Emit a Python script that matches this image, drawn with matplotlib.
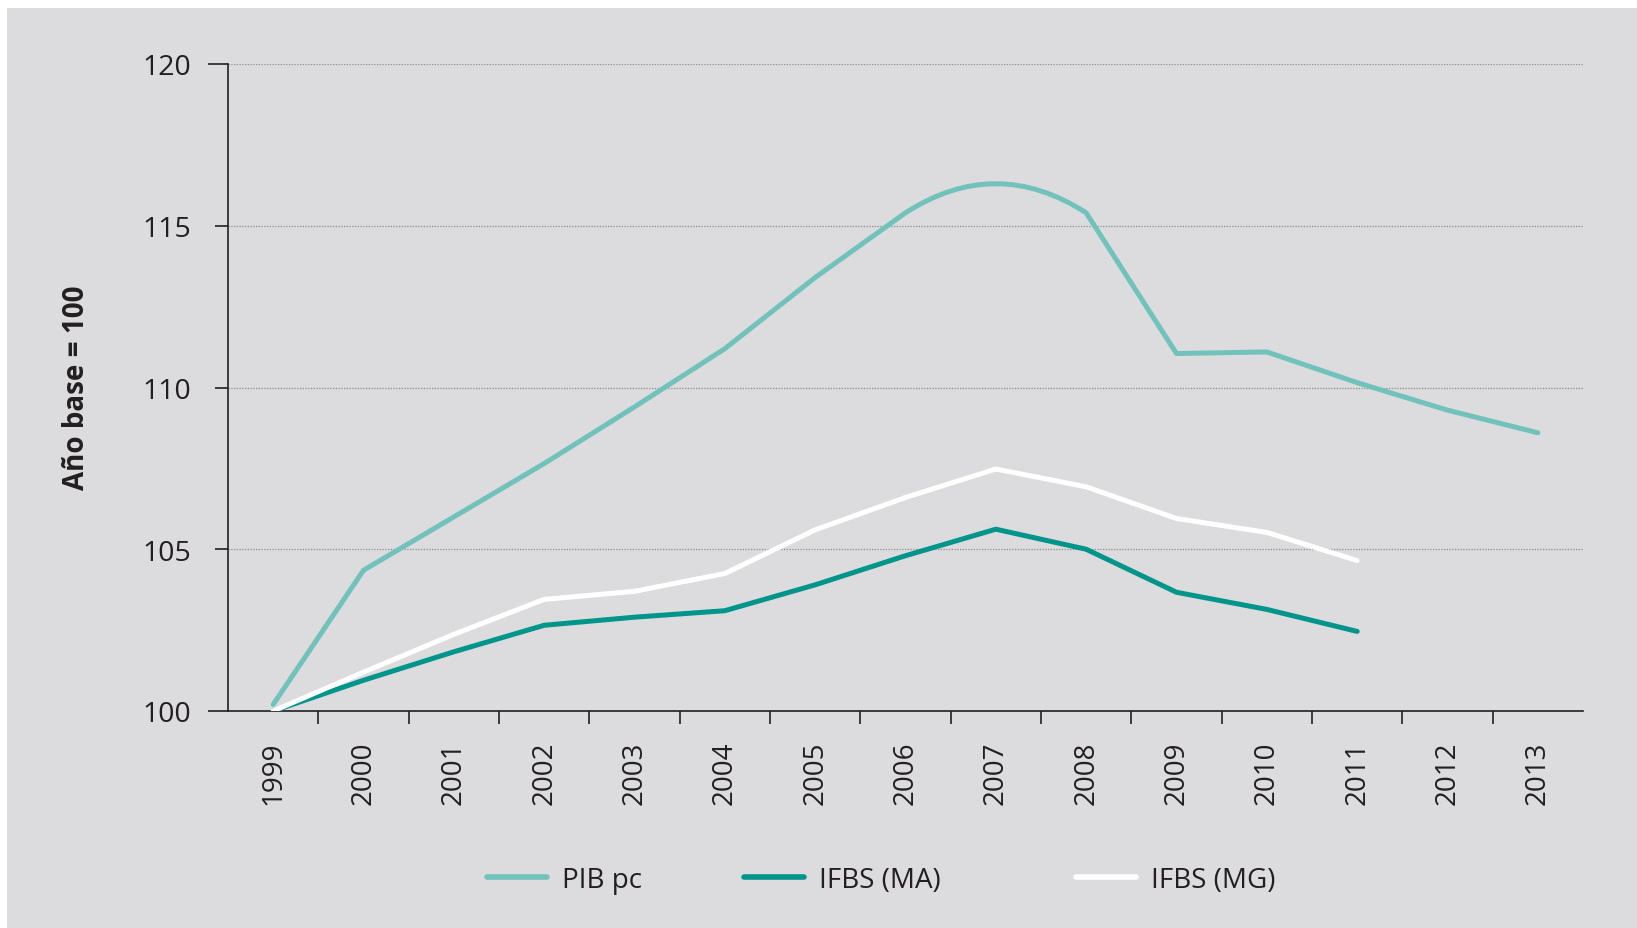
import numpy as np
import matplotlib
matplotlib.use('Agg')
from matplotlib import pyplot as plt
from matplotlib.path import Path
from matplotlib.patches import PathPatch, Rectangle
from matplotlib.lines import Line2D

years = ['1999', '2000', '2001', '2002', '2003', '2004', '2005', '2006',
         '2007', '2008', '2009', '2010', '2011', '2012', '2013']
pib_pc = [100.2, 104.35, 106.0, 107.65, 109.4, 111.2, 113.4, 115.4,
          116.3, 115.4, 111.05, 111.1, 110.15, 109.3, 108.6]
ifbs_ma = [100.0, 100.95, 101.83, 102.65, 102.9, 103.1, 103.9, 104.8,
           105.62, 105.0, 103.67, 103.14, 102.46]
ifbs_mg = [100.0, 101.2, 102.37, 103.45, 103.7, 104.25, 105.6, 106.6,
           107.48, 106.93, 105.95, 105.52, 104.65]
y_ticks = [100, 105, 110, 115, 120]

W, H = 1637, 929
bg = '#dcdcde'
ink = '#231f20'
c_pib = '#72c2bc'
c_ma = '#00958a'
c_mg = '#ffffff'

plt.rcParams['font.family'] = ['Open Sans', 'DejaVu Sans']

fig = plt.figure(figsize=(W / 100, H / 100), dpi=100)
fig.patch.set_facecolor('white')
fig.add_artist(Rectangle((7 / W, 0), 1, 1 - 9 / H, transform=fig.transFigure,
                         facecolor=bg, edgecolor='none', zorder=-10))

ax = fig.add_axes([228 / W, 1 - 712 / H, (1583 - 228) / W, (712 - 65) / H])
ax.set_facecolor(bg)

x = np.arange(len(years))

# PIB pc: straight segments, with the rounded hump 2006-2008 of the original
# (quadratic curve passing through the 2007 value)
verts = [(x[i], pib_pc[i]) for i in range(8)]
codes = [Path.MOVETO] + [Path.LINETO] * 7
verts += [(x[8], 2 * pib_pc[8] - 0.5 * (pib_pc[7] + pib_pc[9])), (x[9], pib_pc[9])]
codes += [Path.CURVE3, Path.CURVE3]
for i in range(10, len(years)):
    verts.append((x[i], pib_pc[i]))
    codes.append(Path.LINETO)
ax.add_patch(PathPatch(Path(verts, codes), fill=False, edgecolor=c_pib, lw=3.6,
                       capstyle='round', joinstyle='round', zorder=3))

ax.plot(x[:len(ifbs_ma)], ifbs_ma, color=c_ma, lw=3.6, solid_capstyle='round',
        solid_joinstyle='round', zorder=4)
ax.plot(x[:len(ifbs_mg)], ifbs_mg, color=c_mg, lw=3.6, solid_capstyle='round',
        solid_joinstyle='round', zorder=5)

ax.set_xlim(-0.5, len(years) - 0.5)
ax.set_ylim(100, 120)

ax.spines['top'].set_visible(False)
ax.spines['right'].set_visible(False)
for s in ['left', 'bottom']:
    ax.spines[s].set_color(ink)
    ax.spines[s].set_linewidth(1.2)

ax.set_yticks(y_ticks)
ax.set_yticklabels([str(v) for v in y_ticks])
ax.tick_params(axis='y', length=9.4, width=1.2, color=ink, labelcolor=ink,
               labelsize=20.5, pad=17)
for t in ax.yaxis.get_major_ticks():
    if t.get_loc() in (100, 120):
        t.tick1line.set_markersize(14.4)
ax.yaxis.grid(True, linestyle=(0, (1, 1.2)), color='#8c8c8c', lw=0.9)
ax.set_axisbelow(True)

ax.set_xticks(x)
ax.set_xticklabels(years, rotation=90)
ax.set_xticks(x[:-1] + 0.5, minor=True)
ax.tick_params(axis='x', which='major', length=0, labelsize=20, labelcolor=ink, pad=21)
ax.tick_params(axis='x', which='minor', length=9.4, width=1.2, color=ink)

fig.text(76 / W, 1 - 388 / H, 'Año base = 100', rotation=90, ha='center',
         va='center', fontsize=20, fontweight='bold', color=ink)

labels = ['PIB pc', 'IFBS (MA)', 'IFBS (MG)']
colors = [c_pib, c_ma, c_mg]
starts = [487, 744, 1076]
for lab, col, xs in zip(labels, colors, starts):
    h = Line2D([], [], color=col, lw=4, solid_capstyle='round')
    fig.legend(handles=[h], labels=[lab], loc='center left',
               bbox_to_anchor=(xs / W, 1 - 881 / H), frameon=False,
               borderpad=0, borderaxespad=0, handlelength=2.16,
               handletextpad=0.55, fontsize=20, labelcolor=ink)

fig.savefig('out.png', dpi=100, facecolor=fig.get_facecolor())
